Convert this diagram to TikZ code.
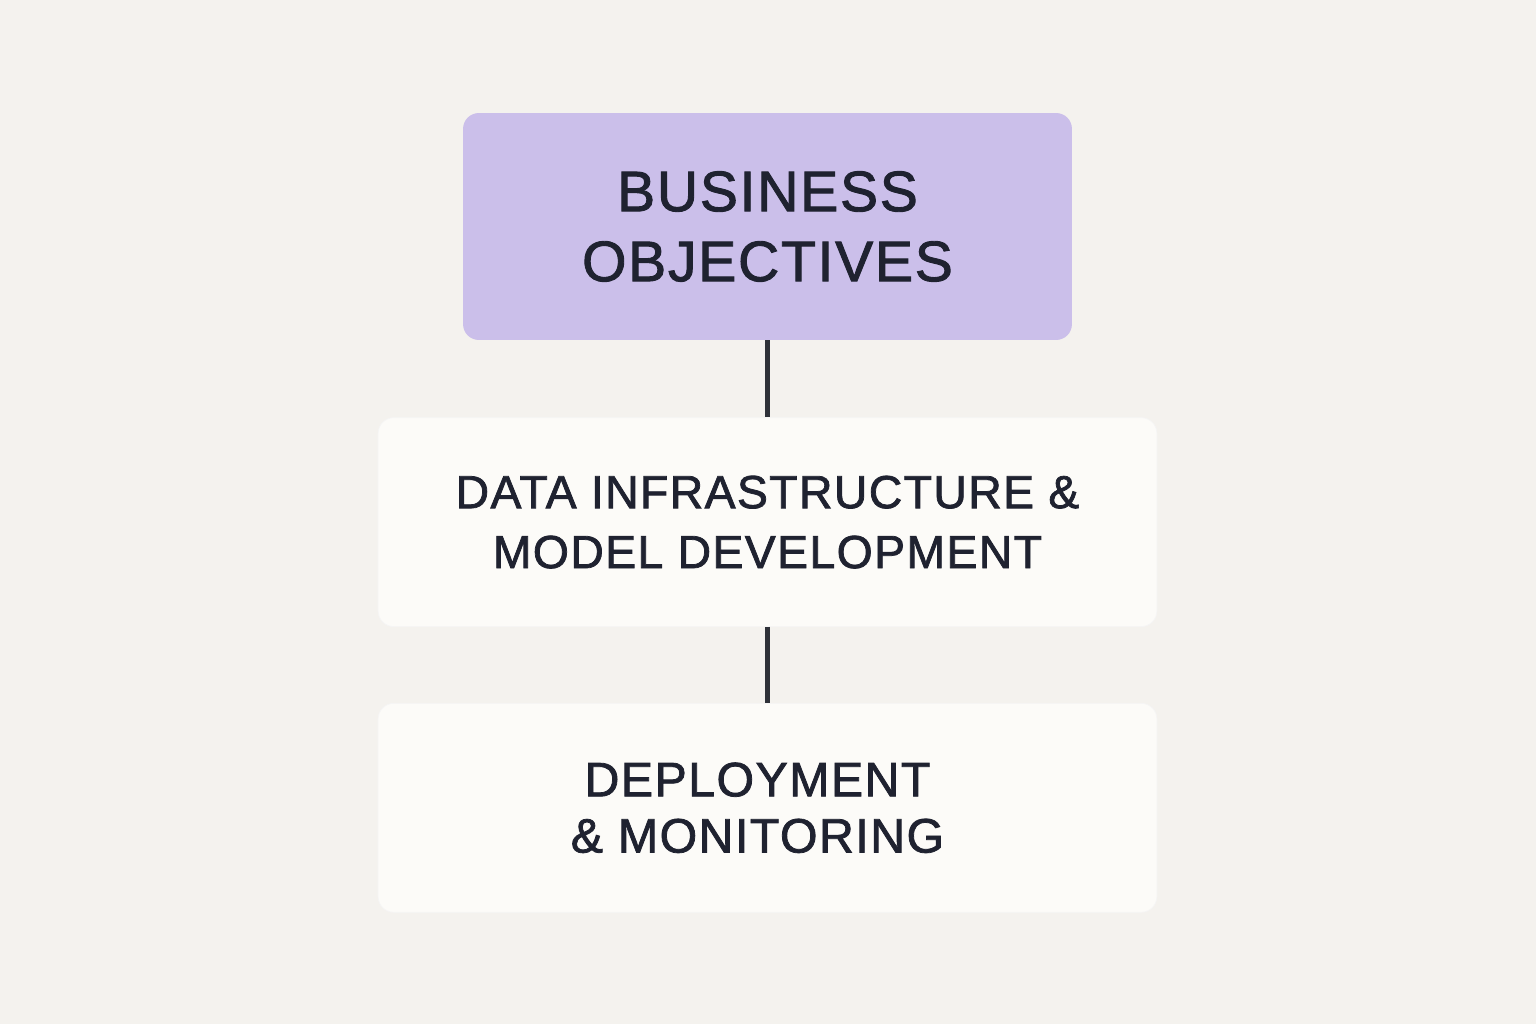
\documentclass[tikz,border=0pt]{standalone}
\usepackage{fontspec}
\setmainfont[FakeBold=1.6, LetterSpace=3]{Liberation Sans}
\usepackage{tikz}
\usetikzlibrary{positioning}

\definecolor{bgpaper}{HTML}{F4F2EE}
\definecolor{lavender}{HTML}{CBBFEA}
\definecolor{cardwhite}{HTML}{FCFBF8}
\definecolor{inkdark}{HTML}{1F2230}
\definecolor{stem}{HTML}{2E3138}

\begin{document}
\begin{tikzpicture}[
  x=0.02cm, y=-0.02cm,
  stage/.style={rounded corners=9pt, align=center, inner sep=0pt, text=inkdark},
  topbox/.style={stage, fill=lavender, minimum width=12.18cm, minimum height=4.54cm,
    font=\fontsize{32.5}{39.8}\selectfont},
  card/.style={stage, fill=cardwhite, draw=black!4, minimum width=15.58cm, minimum height=4.18cm},
  link/.style={draw=stem, line width=2.4pt}
]
\fill[bgpaper] (0,0) rectangle (1536,1024);
\useasboundingbox (0,0) rectangle (1536,1024);

\node[topbox] (goals) at (767.5,226.5) {BUSINESS\\OBJECTIVES};
\node[card, below=1.54cm of goals, font=\fontsize{26.4}{34.1}\selectfont] (build)
  {DATA INFRASTRUCTURE \&\\MODEL DEVELOPMENT};
\node[card, below=1.52cm of build, font=\fontsize{27.5}{32}\selectfont] (ops)
  {DEPLOYMENT\hspace*{0.4cm}\\\& MONITORING\hspace*{0.4cm}};

\draw[link] (goals) -- (build);
\draw[link] (build) -- (ops);
\end{tikzpicture}
\end{document}
